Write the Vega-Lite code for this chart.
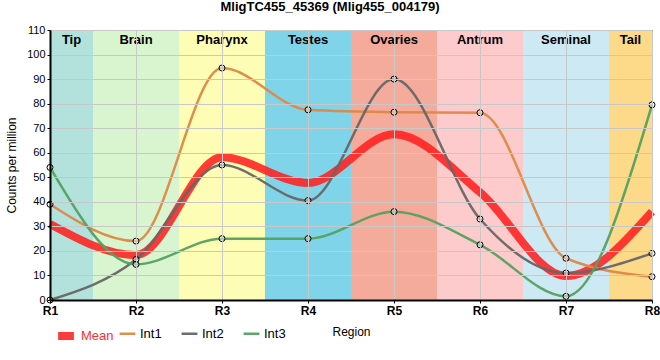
{
  "$schema": "https://vega.github.io/schema/vega-lite/v6.json",
  "width": 602,
  "height": 270,
  "autosize": "none",
  "padding": {"left": 50, "top": 30, "right": 8, "bottom": 60},
  "background": "white",
  "title": {"text": "MligTC455_45369 (Mlig455_004179)", "fontSize": 13, "font": "Liberation Sans", "fontWeight": "bold", "anchor": "middle", "offset": 10, "dx": -21, "color": "black"},
  "config": {
    "view": {"stroke": "black", "strokeWidth": 1},
    "font": "Liberation Sans"
  },
  "resolve": {"scale": {"color": "independent"}},
  "datasets": {
    "bands": [
      {"name": "Tip", "start": 1, "end": 1.5, "color": "#b3e2dd"},
      {"name": "Brain", "start": 1.5, "end": 2.5, "color": "#d9f5d0"},
      {"name": "Pharynx", "start": 2.5, "end": 3.5, "color": "#fdfdb6"},
      {"name": "Testes", "start": 3.5, "end": 4.5, "color": "#80d4ea"},
      {"name": "Ovaries", "start": 4.5, "end": 5.5, "color": "#f4ab9c"},
      {"name": "Antrum", "start": 5.5, "end": 6.5, "color": "#fdcbcb"},
      {"name": "Seminal", "start": 6.5, "end": 7.5, "color": "#cdeaf4"},
      {"name": "Tail", "start": 7.5, "end": 8, "color": "#fdd98a"}
    ],
    "series": [
      {"region": 1, "series": "Int1", "value": 39},
      {"region": 2, "series": "Int1", "value": 24},
      {"region": 3, "series": "Int1", "value": 94.5},
      {"region": 4, "series": "Int1", "value": 77.5},
      {"region": 5, "series": "Int1", "value": 76.5},
      {"region": 6, "series": "Int1", "value": 76.3},
      {"region": 7, "series": "Int1", "value": 17},
      {"region": 8, "series": "Int1", "value": 9.5},
      {"region": 1, "series": "Int2", "value": 0},
      {"region": 2, "series": "Int2", "value": 16.5},
      {"region": 3, "series": "Int2", "value": 55},
      {"region": 4, "series": "Int2", "value": 40.5},
      {"region": 5, "series": "Int2", "value": 90},
      {"region": 6, "series": "Int2", "value": 33},
      {"region": 7, "series": "Int2", "value": 11},
      {"region": 8, "series": "Int2", "value": 19},
      {"region": 1, "series": "Int3", "value": 54},
      {"region": 2, "series": "Int3", "value": 14.5},
      {"region": 3, "series": "Int3", "value": 25},
      {"region": 4, "series": "Int3", "value": 25},
      {"region": 5, "series": "Int3", "value": 36},
      {"region": 6, "series": "Int3", "value": 22.5},
      {"region": 7, "series": "Int3", "value": 1.5},
      {"region": 8, "series": "Int3", "value": 79.5}
    ],
    "mean": [
      {"region": 1, "series": "Mean", "value": 31},
      {"region": 2, "series": "Mean", "value": 18.3},
      {"region": 3, "series": "Mean", "value": 58.2},
      {"region": 4, "series": "Mean", "value": 47.7},
      {"region": 5, "series": "Mean", "value": 67.5},
      {"region": 6, "series": "Mean", "value": 43.9},
      {"region": 7, "series": "Mean", "value": 9.8},
      {"region": 8, "series": "Mean", "value": 36}
    ]
  },
  "layer": [
    {
      "data": {"name": "bands"},
      "mark": {"type": "rect"},
      "encoding": {
        "x": {"field": "start", "type": "quantitative", "scale": {"domain": [1, 8], "nice": false, "zero": false},
              "axis": {"values": [1,2,3,4,5,6,7,8], "tickCount": 20, "labelExpr": "'R' + datum.value", "title": "Region", "titleFontWeight": "normal", "titleFontSize": 12, "titleY": 26, "titleColor": "black",
                       "labelFontSize": 12, "labelFontWeight": "bold", "labelColor": "black", "labelPadding": 2, "tickSize": 3, "tickColor": "black",
                       "domainColor": "black", "domainWidth": 2, "gridColor": "#c8c8c8", "gridWidth": 1, "zindex": 1, "labelFlush": false, "labelOverlap": false}},
        "x2": {"field": "end"},
        "fill": {"field": "color", "type": "nominal", "scale": null}
      }
    },
    {
      "data": {"name": "mean"},
      "mark": {"type": "line", "interpolate": "monotone", "opacity": 0.88, "strokeWidth": 8},
      "encoding": {
        "x": {"field": "region", "type": "quantitative"},
        "y": {"field": "value", "type": "quantitative", "scale": {"domain": [0, 110], "nice": false},
              "axis": {"values": [0,10,20,30,40,50,60,70,80,90,100,110], "tickCount": 20, "title": "Counts per million", "titleFontWeight": "normal", "titleFontSize": 12, "titleColor": "black", "titlePadding": 8,
                       "labelFontSize": 11, "labelColor": "black", "tickSize": 3, "tickColor": "black", "labelPadding": 2, "labelOverlap": false, "labelFlush": false,
                       "domainColor": "black", "domainWidth": 2, "gridColor": "#c8c8c8", "gridWidth": 1, "zindex": 1}},
        "color": {"field": "series", "type": "nominal",
                  "scale": {"domain": ["Mean"], "range": ["#ff2020"]},
                  "legend": {"orient": "none", "legendX": 4, "legendY": 294, "direction": "horizontal", "title": null, "labelFontSize": 13, "labelColor": "#ff3030", "symbolType": "stroke", "symbolSize": 250, "symbolStrokeWidth": 8, "labelOffset": 3}}
      }
    },
    {
      "data": {"name": "series"},
      "mark": {"type": "line", "interpolate": "monotone", "opacity": 0.95, "strokeWidth": 2.5},
      "encoding": {
        "x": {"field": "region", "type": "quantitative"},
        "y": {"field": "value", "type": "quantitative"},
        "color": {"field": "series", "type": "nominal",
                  "scale": {"domain": ["Int1", "Int2", "Int3"], "range": ["#dd8844", "#666666", "#55a060"]},
                  "legend": {"orient": "none", "legendX": 68, "legendY": 294, "direction": "horizontal", "title": null, "labelFontSize": 13, "symbolType": "stroke", "symbolSize": 250, "symbolStrokeWidth": 2.5, "columnPadding": 14, "labelOffset": 3,
                             "encode": {"labels": {"update": {"fill": {"signal": "datum.value === 'Int1' ? '#dd8844' : datum.value === 'Int2' ? '#666666' : '#55a060'"}}}}}}
      }
    },
    {
      "data": {"name": "series"},
      "mark": {"type": "point", "filled": false, "fill": "white", "fillOpacity": 0.4, "stroke": "black", "strokeWidth": 1, "size": 36, "opacity": 1},
      "encoding": {
        "x": {"field": "region", "type": "quantitative"},
        "y": {"field": "value", "type": "quantitative"}
      }
    },
    {
      "data": {"name": "bands"},
      "transform": [{"calculate": "(datum.start + datum.end) / 2", "as": "mid"}],
      "mark": {"type": "text", "fontSize": 13, "fontWeight": "bold", "baseline": "middle", "color": "black"},
      "encoding": {
        "x": {"field": "mid", "type": "quantitative"},
        "y": {"datum": 106, "type": "quantitative"},
        "text": {"field": "name"}
      }
    }
  ]
}
